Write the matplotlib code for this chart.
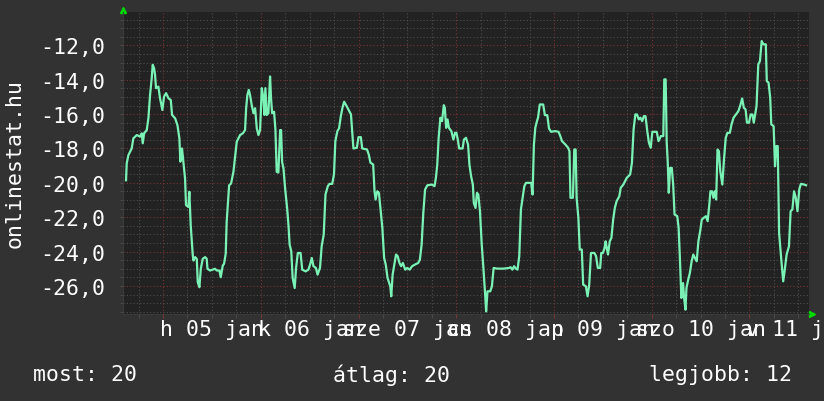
import matplotlib
matplotlib.use('Agg')
import matplotlib.pyplot as plt
from matplotlib.ticker import MultipleLocator, FuncFormatter
import matplotlib.transforms as mtransforms

plt.rcParams['font.family'] = ['DejaVu Sans Mono', 'DejaVu Sans']

# days since "h 05 jan" 00:00
days = [-0.379, -0.372, -0.355, -0.321, -0.304, -0.269, -0.235, -0.218, -0.208, -0.194,
        -0.167, -0.150, -0.133, -0.116, -0.106, -0.092, -0.082, -0.072, -0.048, -0.031,
        -0.007, 0.010, 0.031, 0.055, 0.079, 0.092, 0.123, 0.147, 0.167, 0.177,
        0.194, 0.208, 0.218, 0.225, 0.235, 0.259, 0.269, 0.283, 0.304, 0.311,
        0.328, 0.345, 0.355, 0.372, 0.386, 0.406, 0.430, 0.447, 0.454, 0.481,
        0.532, 0.550, 0.577, 0.590, 0.611, 0.624, 0.641, 0.651, 0.665, 0.676,
        0.696, 0.706, 0.720, 0.737, 0.754, 0.771, 0.788, 0.816, 0.839, 0.850,
        0.863, 0.877, 0.890, 0.907, 0.925, 0.942, 0.959, 0.976, 0.993, 1.010,
        1.027, 1.037, 1.047, 1.061, 1.078, 1.095, 1.105, 1.116, 1.136, 1.150,
        1.163, 1.180, 1.198, 1.208, 1.218, 1.232, 1.249, 1.270, 1.284, 1.295,
        1.312, 1.326, 1.347, 1.361, 1.379, 1.407, 1.424, 1.459, 1.487, 1.504,
        1.522, 1.539, 1.564, 1.581, 1.606, 1.623, 1.644, 1.662, 1.686, 1.703,
        1.731, 1.749, 1.763, 1.784, 1.801, 1.819, 1.836, 1.853, 1.878, 1.906,
        1.923, 1.934, 1.948, 1.983, 2.000, 2.024, 2.038, 2.087, 2.105, 2.122,
        2.150, 2.164, 2.175, 2.192, 2.209, 2.227, 2.244, 2.262, 2.279, 2.297,
        2.325, 2.335, 2.349, 2.366, 2.384, 2.401, 2.419, 2.436, 2.454, 2.478,
        2.499, 2.524, 2.548, 2.576, 2.611, 2.628, 2.646, 2.663, 2.681, 2.705,
        2.750, 2.778, 2.792, 2.806, 2.820, 2.838, 2.855, 2.873, 2.883, 2.897,
        2.911, 2.925, 2.950, 2.971, 2.988, 3.002, 3.016, 3.030, 3.065, 3.079,
        3.100, 3.121, 3.135, 3.152, 3.170, 3.180, 3.198, 3.212, 3.226, 3.243,
        3.261, 3.278, 3.296, 3.306, 3.320, 3.348, 3.365, 3.383, 3.418, 3.488,
        3.540, 3.557, 3.575, 3.592, 3.610, 3.627, 3.645, 3.662, 3.680, 3.697,
        3.714, 3.767, 3.781, 3.795, 3.809, 3.826, 3.837, 3.855, 3.890, 3.907,
        3.932, 3.949, 3.970, 4.012, 4.047, 4.065, 4.082, 4.117, 4.145, 4.159,
        4.169, 4.194, 4.208, 4.222, 4.232, 4.250, 4.264, 4.285, 4.299, 4.327,
        4.344, 4.361, 4.379, 4.414, 4.431, 4.449, 4.473, 4.484, 4.501, 4.518,
        4.529, 4.543, 4.553, 4.571, 4.588, 4.606, 4.623, 4.641, 4.669, 4.683,
        4.710, 4.745, 4.780, 4.798, 4.815, 4.833, 4.850, 4.868, 4.885, 4.903,
        4.920, 4.937, 4.955, 4.972, 4.990, 5.007, 5.052, 5.070, 5.094, 5.119,
        5.129, 5.143, 5.154, 5.164, 5.175, 5.189, 5.206, 5.220, 5.234, 5.262,
        5.276, 5.290, 5.304, 5.321, 5.332, 5.346, 5.356, 5.374, 5.391, 5.409,
        5.426, 5.443, 5.461, 5.478, 5.496, 5.513, 5.531, 5.555, 5.573, 5.590,
        5.601, 5.618, 5.632, 5.646, 5.660, 5.674, 5.688, 5.702, 5.723, 5.740,
        5.758, 5.775, 5.800, 5.817, 5.838, 5.863, 5.887, 5.905, 5.926, 5.943,
        5.961, 5.975, 5.996, 6.013, 6.031, 6.045, 6.059, 6.073, 6.091, 6.108,
        6.126, 6.143, 6.168, 6.178, 6.196, 6.213, 6.224, 6.248, 6.262, 6.276,
        6.290, 6.304, 6.325, 6.346, 6.360, 6.381, 6.405, 6.422, 6.440, 6.457,
        6.475, 6.492, 6.510, 6.527, 6.562, 6.580]
values = [-19.85, -18.87, -18.39, -18.00, -17.41, -17.22, -17.31, -17.12, -17.70, -17.12,
          -16.93, -16.24, -14.88, -13.91, -13.13, -13.33, -13.72, -14.49, -14.40, -15.08,
          -15.76, -14.98, -14.78, -15.08, -15.18, -16.05, -16.24, -16.64, -17.41, -18.77,
          -18.00, -18.77, -19.36, -19.75, -21.30, -21.40, -20.52, -22.47, -24.22, -24.52,
          -24.32, -24.42, -25.78, -26.07, -25.00, -24.42, -24.32, -24.42, -25.00, -25.10,
          -25.00, -25.10, -25.10, -25.49, -24.81, -24.71, -24.13, -22.27, -21.11, -20.14,
          -20.04, -19.75, -19.36, -18.48, -17.61, -17.41, -17.22, -17.12, -16.93, -15.66,
          -14.88, -14.59, -14.88, -15.47, -15.95, -15.66, -16.83, -17.22, -16.93, -14.49,
          -15.08, -16.05, -14.49, -16.05, -15.95, -13.81, -15.08, -15.95, -15.86, -16.93,
          -19.36, -19.40, -16.93, -16.93, -18.77, -19.16, -20.33, -21.50, -22.52, -23.59,
          -23.98, -25.53, -26.12, -24.95, -24.08, -24.08, -25.05, -25.15, -25.05, -24.76,
          -24.37, -24.85, -24.95, -25.34, -24.95, -23.69, -23.01, -20.68, -20.19, -20.06,
          -20.06, -19.51, -17.57, -16.99, -16.83, -16.12, -15.63, -15.28, -15.53, -15.83,
          -16.02, -16.89, -18.00, -17.96, -17.34, -17.34, -18.00, -18.06, -18.35, -18.83,
          -18.93, -20.49, -20.97, -20.49, -20.58, -21.65, -22.62, -24.37, -24.76, -25.53,
          -26.02, -26.60, -25.34, -24.76, -24.17, -24.27, -24.66, -24.85, -24.66, -25.05,
          -24.95, -25.05, -24.85, -24.76, -24.66, -24.47, -23.59, -21.75, -20.39, -20.14,
          -20.10, -20.19, -19.71, -18.93, -17.38, -16.21, -16.41, -15.48, -15.63, -16.80,
          -16.31, -16.80, -16.99, -17.48, -17.09, -17.09, -17.48, -18.00, -18.00, -17.48,
          -17.38, -17.77, -18.93, -19.61, -20.10, -21.17, -21.46, -20.58, -20.68, -21.65,
          -23.59, -24.95, -26.50, -27.48, -26.31, -26.31, -26.02, -24.95, -24.99, -24.99,
          -24.95, -24.91, -25.05, -24.85, -24.99, -25.05, -24.27, -21.55, -20.87, -20.19,
          -20.00, -20.00, -20.68, -17.77, -16.80, -16.41, -16.21, -15.44, -15.44, -16.06,
          -16.06, -16.83, -17.03, -16.99, -17.03, -17.28, -17.57, -17.77, -17.96, -18.16,
          -20.87, -20.87, -18.06, -18.06, -20.87, -22.04, -23.88, -23.88, -25.92, -26.02,
          -26.60, -25.92, -24.08, -24.08, -24.27, -24.95, -24.95, -24.08, -24.08, -23.79,
          -23.40, -23.88, -24.17, -23.40, -23.20, -22.14, -21.46, -21.07, -20.78, -20.29,
          -20.10, -19.71, -19.51, -18.83, -16.89, -16.02, -16.02, -16.31, -16.21, -16.41,
          -16.12, -16.12, -16.99, -17.67, -17.96, -17.03, -17.03, -17.57, -17.28, -17.28,
          -13.98, -13.98, -17.67, -18.74, -20.58, -19.13, -19.13, -20.10, -21.84, -21.94,
          -22.62, -24.56, -26.70, -25.83, -26.70, -27.38, -26.12, -25.63, -25.24, -24.56,
          -24.17, -24.37, -24.56, -23.40, -22.82, -22.14, -22.04, -21.94, -22.23, -21.26,
          -20.49, -20.49, -20.87, -20.49, -20.97, -18.06, -18.16, -19.32, -20.10, -18.64,
          -17.38, -17.09, -17.09, -16.60, -16.21, -16.02, -15.83, -15.53, -15.09, -15.63,
          -15.73, -16.50, -16.50, -16.02, -16.02, -16.50, -16.02, -15.53, -13.11, -12.91,
          -11.75, -11.94, -11.94, -14.08, -14.17, -15.05, -16.60, -16.70, -19.03, -17.86,
          -17.86, -22.91, -24.37, -25.73, -25.15, -24.17, -23.69, -21.65, -21.55, -20.49,
          -20.87, -21.65, -20.39, -20.06, -20.10, -20.14]

day_labels = ['h 05 jan', 'k 06 jan', 'sze 07 jan', 'cs 08 jan',
              'p 09 jan', 'szo 10 jan', 'v 11 jan']
legend_most = 'most: 20'
legend_atlag = 'átlag: 20'
legend_legjobb = 'legjobb: 12'

bg = '#323232'
canvas = '#222222'
line_col = '#7af2b6'
grid_minor = '#4e4e4e'
grid_major = '#7a3434'
arrow_col = '#00dd00'

fig = plt.figure(figsize=(8.24, 4.02), dpi=100, facecolor=bg)
ax = fig.add_axes([123 / 824, 87 / 402, 686 / 824, 302 / 402])
ax.set_facecolor(canvas)

ax.plot(days, values, color=line_col, lw=1.6, zorder=3)

ax.set_xlim(-0.41, 6.61)
ax.set_ylim(-27.63, -10.06)

ax.xaxis.set_major_locator(MultipleLocator(1))
ax.xaxis.set_minor_locator(MultipleLocator(0.25))
ax.yaxis.set_major_locator(MultipleLocator(2))
ax.yaxis.set_minor_locator(MultipleLocator(0.5))
ax.yaxis.set_major_formatter(FuncFormatter(lambda v, p: ('%.1f' % v).replace('.', ',')))
ax.set_xticklabels([])

ax.grid(which='minor', color=grid_minor, ls=(0, (1, 2)), lw=0.8)
ax.grid(which='major', color=grid_major, ls=(0, (1, 2)), lw=0.8)
ax.set_axisbelow(True)

ax.tick_params(axis='y', which='both', length=2, color=grid_minor, labelcolor='white',
               labelsize=15.5, pad=11)
ax.tick_params(axis='x', which='minor', length=3, color=grid_minor)
ax.tick_params(axis='x', which='major', length=3, color=grid_major)
for s in ['top', 'right']:
    ax.spines[s].set_visible(False)
for s in ['left', 'bottom']:
    ax.spines[s].set_color('#3a3a3a')

# day labels centred at noon
trans = mtransforms.blended_transform_factory(ax.transData, ax.transAxes)
for i, lab in enumerate(day_labels):
    ax.text(i + 0.5, -0.05, lab, transform=trans, ha='center', va='center',
            color='white', fontsize=15.5, clip_on=False)

# little green arrows at axis ends
ax.plot([0], [1.007], marker='^', color=arrow_col, ms=5, transform=ax.transAxes, clip_on=False)
ax.plot([1.004], [0], marker='>', color=arrow_col, ms=5, transform=ax.transAxes, clip_on=False)

fig.text(15 / 824, 1 - 164 / 402, 'onlinestat.hu', rotation=90, ha='center', va='center',
         color='white', fontsize=15.5)

fig.text(33 / 824, 1 - 375 / 402, legend_most, ha='left', va='center', color='white', fontsize=15.5)
fig.text(333 / 824, 1 - 375 / 402, legend_atlag, ha='left', va='center', color='white', fontsize=15.5)
fig.text(792 / 824, 1 - 375 / 402, legend_legjobb, ha='right', va='center', color='white', fontsize=15.5)

fig.savefig('out.png', dpi=100, facecolor=bg)
